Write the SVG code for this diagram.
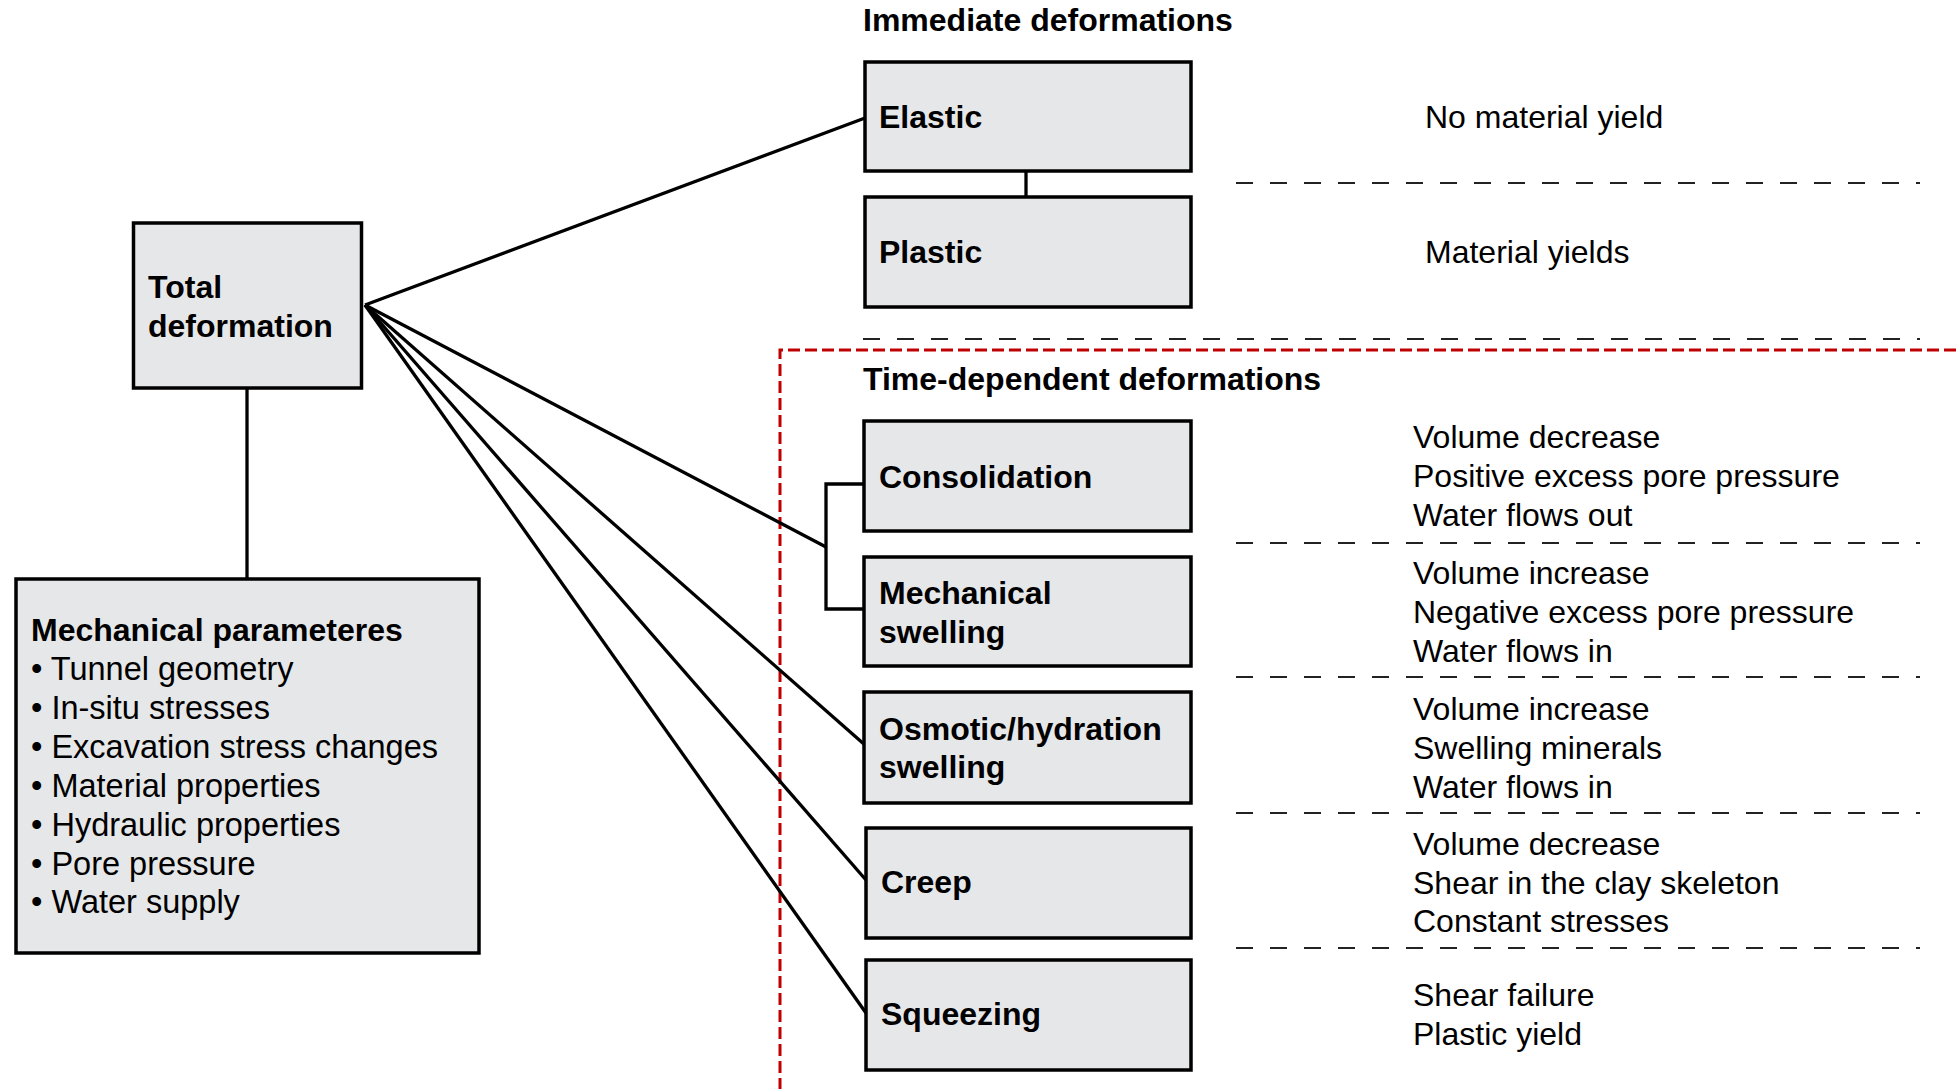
<svg xmlns="http://www.w3.org/2000/svg" width="1956" height="1089" viewBox="0 0 1956 1089">
<style>
.box{fill:#E6E7E8;stroke:#000;stroke-width:3.5}
.lbl{font-family:"Liberation Sans",Arial,sans-serif;font-weight:bold;font-size:32px;fill:#000}
.hdr{font-family:"Liberation Sans",Arial,sans-serif;font-weight:bold;font-size:32px;fill:#000}
.txt{font-family:"Liberation Sans",Arial,sans-serif;font-size:32.5px;fill:#000}
.desc{font-family:"Liberation Sans",Arial,sans-serif;font-size:32px;fill:#000}
.conn{fill:none;stroke:#000;stroke-width:3.3}
.sep{fill:none;stroke:#222;stroke-width:1.8;stroke-dasharray:17 17}
.red{fill:none;stroke:#C00000;stroke-width:3;stroke-dasharray:12 5}
</style>
<rect width="1956" height="1089" fill="#fff"/>
<path class="red" d="M1956,350 H780 V1089"/>
<g id="separators">
<line class="sep" x1="1236" y1="183" x2="1920" y2="183"/>
<line class="sep" x1="863" y1="339" x2="1920" y2="339"/>
<line class="sep" x1="1236" y1="543" x2="1920" y2="543"/>
<line class="sep" x1="1236" y1="677" x2="1920" y2="677"/>
<line class="sep" x1="1236" y1="813" x2="1920" y2="813"/>
<line class="sep" x1="1236" y1="948" x2="1920" y2="948"/>
</g>
<g id="connectors">
<line class="conn" x1="365" y1="305" x2="865" y2="118"/>
<line class="conn" x1="365" y1="305" x2="826" y2="547"/>
<line class="conn" x1="365" y1="305" x2="865" y2="745"/>
<line class="conn" x1="365" y1="305" x2="866" y2="880"/>
<line class="conn" x1="365" y1="305" x2="866" y2="1013"/>
<line class="conn" x1="247" y1="389" x2="247" y2="579"/>
<line class="conn" x1="1026" y1="172" x2="1026" y2="197"/>
<path class="conn" d="M863,484 H826 V609 H863"/>
</g>
<g id="headers">
<text class="hdr" x="863" y="31">Immediate deformations</text>
<text class="hdr" x="863" y="390">Time-dependent deformations</text>
</g>
<g id="total">
<rect class="box" x="133.5" y="223" width="228" height="165"/>
<text class="lbl" x="148" y="298">Total</text>
<text class="lbl" x="148" y="337">deformation</text>
</g>
<g id="mechanical-parameters">
<rect class="box" x="16" y="579" width="463" height="374"/>
<text class="lbl" x="31" y="641">Mechanical parameteres</text>
<text class="txt" x="31" y="680">• Tunnel geometry</text>
<text class="txt" x="31" y="719">• In-situ stresses</text>
<text class="txt" x="31" y="758">• Excavation stress changes</text>
<text class="txt" x="31" y="797">• Material properties</text>
<text class="txt" x="31" y="836">• Hydraulic properties</text>
<text class="txt" x="31" y="875">• Pore pressure</text>
<text class="txt" x="31" y="913">• Water supply</text>
</g>
<g id="elastic">
<rect class="box" x="865" y="62" width="326" height="109"/>
<text class="lbl" x="879" y="128">Elastic</text>
</g>
<g id="plastic">
<rect class="box" x="865" y="197" width="326" height="110"/>
<text class="lbl" x="879" y="263">Plastic</text>
</g>
<g id="consolidation">
<rect class="box" x="864" y="421" width="327" height="110"/>
<text class="lbl" x="879" y="488">Consolidation</text>
</g>
<g id="mechanical-swelling">
<rect class="box" x="864" y="557" width="327" height="109"/>
<text class="lbl" x="879" y="604">Mechanical</text>
<text class="lbl" x="879" y="643">swelling</text>
</g>
<g id="osmotic-swelling">
<rect class="box" x="864" y="692" width="327" height="111"/>
<text class="lbl" x="879" y="740">Osmotic/hydration</text>
<text class="lbl" x="879" y="778">swelling</text>
</g>
<g id="creep">
<rect class="box" x="866" y="828" width="325" height="110"/>
<text class="lbl" x="881" y="893">Creep</text>
</g>
<g id="squeezing">
<rect class="box" x="866" y="960" width="325" height="110"/>
<text class="lbl" x="881" y="1025">Squeezing</text>
</g>
<g id="descriptions">
<text class="desc" x="1425" y="128">No material yield</text>
<text class="desc" x="1425" y="263">Material yields</text>
<text class="desc" x="1413" y="448">Volume decrease</text>
<text class="desc" x="1413" y="487">Positive excess pore pressure</text>
<text class="desc" x="1413" y="526">Water flows out</text>
<text class="desc" x="1413" y="584">Volume increase</text>
<text class="desc" x="1413" y="623">Negative excess pore pressure</text>
<text class="desc" x="1413" y="662">Water flows in</text>
<text class="desc" x="1413" y="720">Volume increase</text>
<text class="desc" x="1413" y="759">Swelling minerals</text>
<text class="desc" x="1413" y="798">Water flows in</text>
<text class="desc" x="1413" y="855">Volume decrease</text>
<text class="desc" x="1413" y="894">Shear in the clay skeleton</text>
<text class="desc" x="1413" y="932">Constant stresses</text>
<text class="desc" x="1413" y="1006">Shear failure</text>
<text class="desc" x="1413" y="1045">Plastic yield</text>
</g>
</svg>
